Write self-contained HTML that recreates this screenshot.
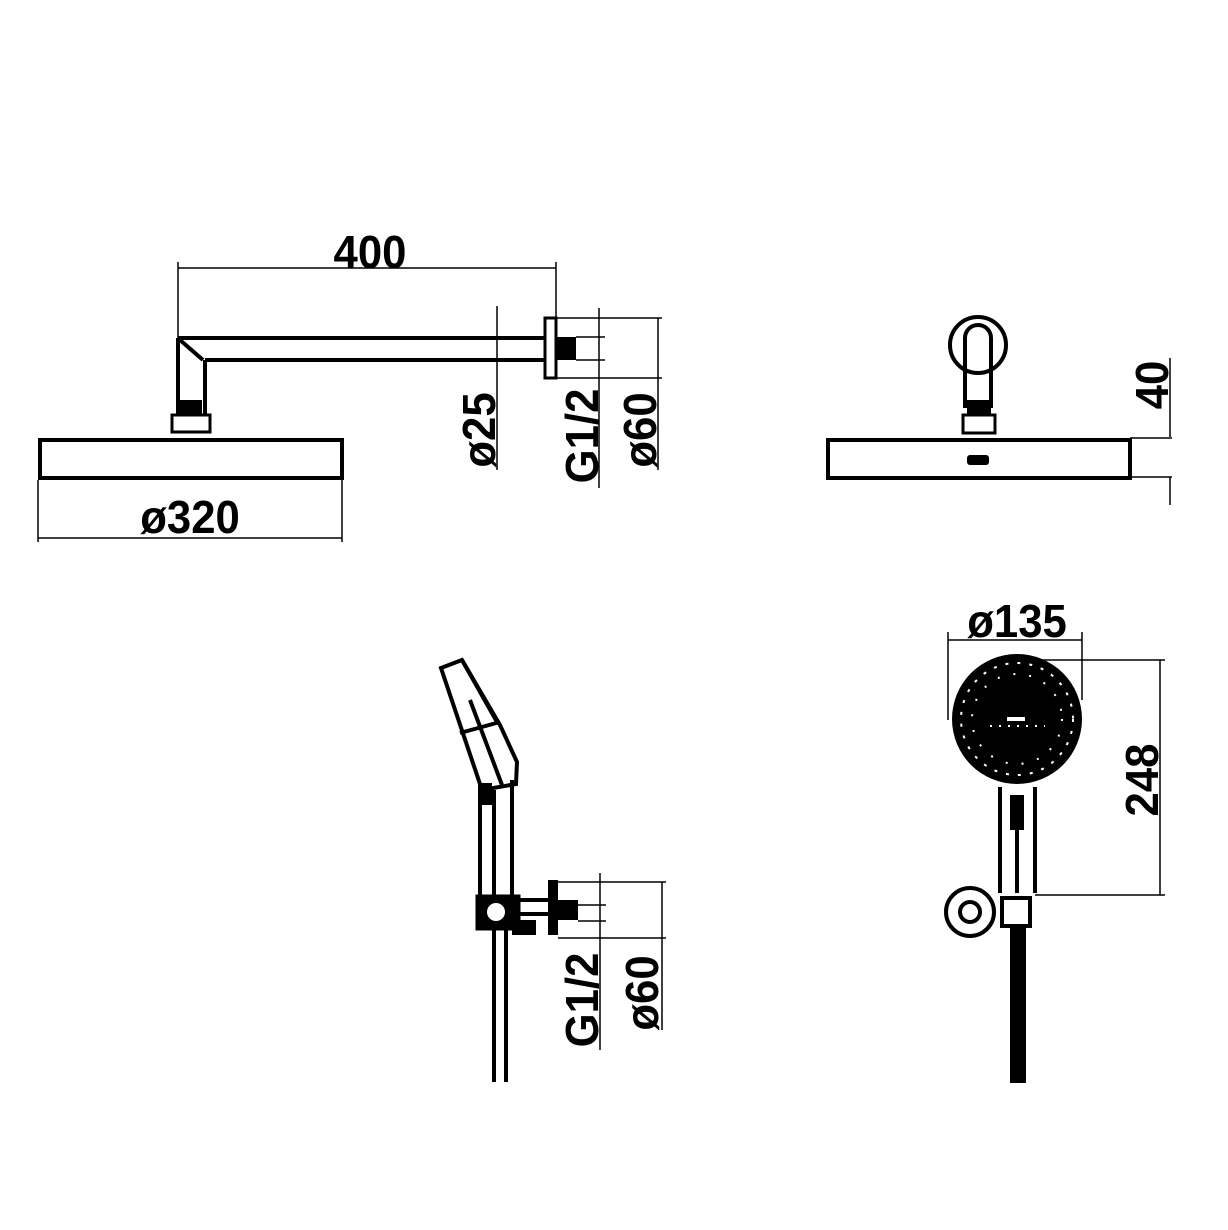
<!DOCTYPE html>
<html><head><meta charset="utf-8"><style>
html,body{margin:0;padding:0;background:#fff;}
svg{display:block;}
text{font-family:"Liberation Sans",sans-serif;font-weight:bold;fill:#000;}
</style></head><body>
<svg width="1228" height="1230" viewBox="0 0 1228 1230" xmlns="http://www.w3.org/2000/svg">
<g fill="none" stroke="#000">
<!-- TOP LEFT -->
<g stroke-width="1.5">
<line x1="178" y1="262" x2="178" y2="340"/>
<line x1="556" y1="262" x2="556" y2="318"/>
<line x1="178" y1="268" x2="556" y2="268"/>
<line x1="38" y1="480" x2="38" y2="542"/>
<line x1="342" y1="480" x2="342" y2="542"/>
<line x1="38" y1="538" x2="342" y2="538"/>
<line x1="497" y1="306" x2="497" y2="470"/>
<line x1="599" y1="308" x2="599" y2="488"/>
<line x1="576" y1="337" x2="605" y2="337"/>
<line x1="576" y1="360" x2="605" y2="360"/>
<line x1="556" y1="318" x2="662" y2="318"/>
<line x1="556" y1="378" x2="662" y2="378"/>
<line x1="658" y1="318" x2="658" y2="470"/>
</g>
<g stroke-width="4">
<path d="M178 338 H545 M205 360 H545 M178 338 V415 M205 360 V415 M180 340 L203 360"/>
<rect x="172" y="415" width="38" height="17" stroke-width="3"/>
<path d="M40 440 H342 V478 H40 Z"/>
<rect x="545" y="318" width="11" height="60" stroke-width="3"/>
</g>
<rect x="556" y="337" width="20" height="23" fill="#000" stroke="none"/>
<rect x="180" y="400" width="22" height="15" fill="#000" stroke="none"/>

<!-- TOP RIGHT -->
<g stroke-width="4">
<circle cx="978" cy="345" r="28"/>
<path d="M965 408 V338 A13 13 0 0 1 991 338 V408"/>
<rect x="963" y="415" width="32" height="18" stroke-width="3"/>
<path d="M828 440 H1130 V478 H828 Z"/>
</g>
<rect x="967" y="400" width="24" height="15" fill="#000" stroke="none"/>
<rect x="967" y="455" width="22" height="10" rx="3" fill="#000" stroke="none"/>
<g stroke-width="1.5">
<line x1="1170" y1="358" x2="1170" y2="437"/>
<line x1="1130" y1="438" x2="1172" y2="438"/>
<line x1="1130" y1="477" x2="1172" y2="477"/>
<line x1="1170" y1="477" x2="1170" y2="505"/>
</g>

<!-- BOTTOM LEFT -->
<g stroke-width="4">
<path d="M441 668 L462 660 L500 725 L517 762 L516 784 L482 790 Z"/>
<path d="M462 660 L497 722 M460 733 L500 722 M470 700 L502 785"/>
<path d="M480 790 V895 M512 780 V895 M494 790 V895"/>
<path d="M494 930 V1082 M506 930 V1082"/>
<path d="M520 900 H548 M520 914 H548"/>
</g>
<rect x="476" y="895" width="44" height="35" fill="#000"/>
<circle cx="496" cy="912" r="9" fill="#fff" stroke="none"/>
<rect x="512" y="920" width="24" height="15" fill="#000" stroke="none"/>
<rect x="548" y="880" width="10" height="55" fill="#000" stroke="none"/>
<rect x="558" y="900" width="20" height="20" fill="#000" stroke="none"/>
<rect x="478" y="783" width="14" height="22" fill="#000" stroke="none"/>
<g stroke-width="1.5">
<line x1="558" y1="882" x2="666" y2="882"/>
<line x1="558" y1="938" x2="666" y2="938"/>
<line x1="578" y1="905" x2="606" y2="905"/>
<line x1="578" y1="921" x2="606" y2="921"/>
<line x1="600" y1="873" x2="600" y2="1050"/>
<line x1="662" y1="882" x2="662" y2="1030"/>
</g>

<!-- BOTTOM RIGHT -->
<g stroke-width="1.5">
<line x1="948" y1="632" x2="948" y2="720"/>
<line x1="1082" y1="632" x2="1082" y2="700"/>
<line x1="948" y1="640" x2="1082" y2="640"/>
<line x1="1040" y1="660" x2="1165" y2="660"/>
<line x1="1035" y1="895" x2="1165" y2="895"/>
<line x1="1160" y1="660" x2="1160" y2="895"/>
</g>
<circle cx="1017" cy="719" r="65" fill="#000" stroke="none"/>
<circle cx="1017" cy="719" r="56" stroke="#fff" stroke-width="2" stroke-dasharray="3 9"/>
<circle cx="1017" cy="719" r="45" stroke="#fff" stroke-width="2" stroke-dasharray="2 14"/>
<line x1="990" y1="726" x2="1045" y2="726" stroke="#fff" stroke-width="2" stroke-dasharray="2 7"/>
<rect x="1007" y="717" width="18" height="4" fill="#fff" stroke="none"/>
<g stroke-width="4">
<path d="M1000 787 V893 M1035 787 V893 M1017 800 V893"/>
<circle cx="970" cy="912" r="24"/>
<circle cx="970" cy="912" r="10"/>
<rect x="1002" y="898" width="28" height="28"/>
</g>
<rect x="1010" y="795" width="14" height="35" fill="#000" stroke="none"/>
<rect x="1010" y="926" width="16" height="157" fill="#000" stroke="none"/>
</g>

<!-- texts -->
<text font-size="46" text-anchor="middle" transform="translate(370 268) scale(0.95 1)">400</text>
<text font-size="46" text-anchor="middle" transform="translate(190 533) scale(0.95 1)">ø320</text>
<text font-size="46" text-anchor="middle" transform="translate(495 430) rotate(-90) scale(0.95 1)">ø25</text>
<text font-size="46" text-anchor="middle" transform="translate(598 436) rotate(-90) scale(0.95 1)">G1/2</text>
<text font-size="46" text-anchor="middle" transform="translate(656 430) rotate(-90) scale(0.95 1)">ø60</text>
<text font-size="46" text-anchor="middle" transform="translate(1168 385) rotate(-90) scale(0.95 1)">40</text>
<text font-size="46" text-anchor="middle" transform="translate(598 1000) rotate(-90) scale(0.95 1)">G1/2</text>
<text font-size="46" text-anchor="middle" transform="translate(658 993) rotate(-90) scale(0.95 1)">ø60</text>
<text font-size="46" text-anchor="middle" transform="translate(1017 637) scale(0.95 1)">ø135</text>
<text font-size="46" text-anchor="middle" transform="translate(1158 780) rotate(-90) scale(0.95 1)">248</text>
</svg>
</body></html>
